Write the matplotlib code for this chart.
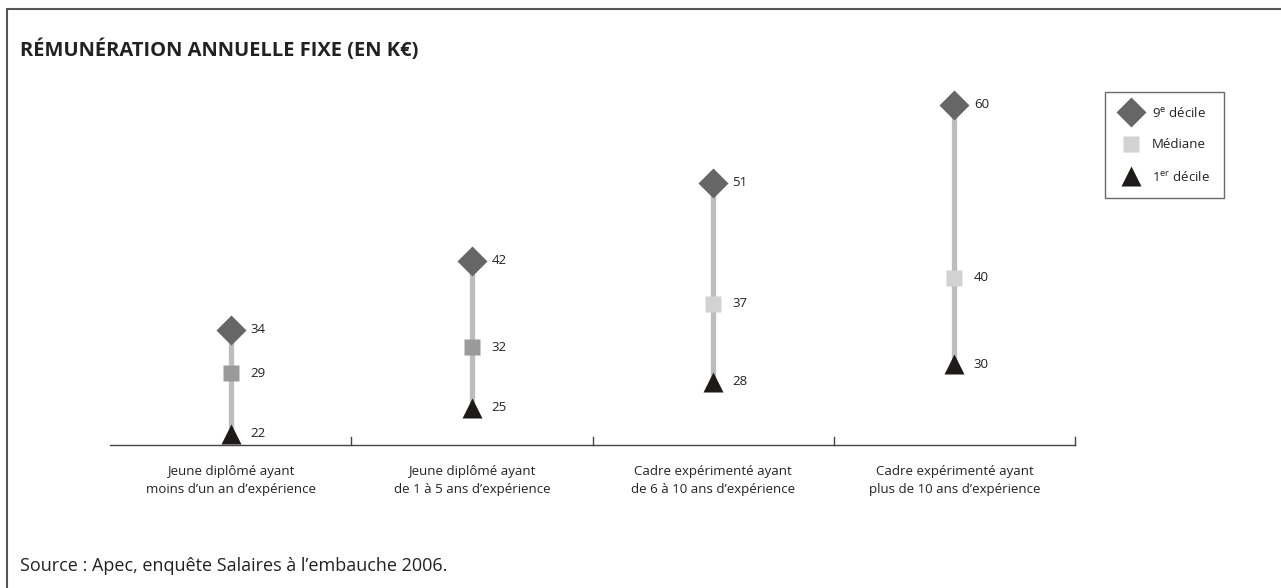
import matplotlib.pyplot as plt
from matplotlib.patches import Rectangle
from matplotlib.lines import Line2D

# data
categories = ["Jeune diplômé ayant\nmoins d\u2019un an d\u2019expérience",
              "Jeune diplômé ayant\nde 1 à 5 ans d\u2019expérience",
              "Cadre expérimenté ayant\nde 6 à 10 ans d\u2019expérience",
              "Cadre expérimenté ayant\nplus de 10 ans d\u2019expérience"]
decile9 = [34, 42, 51, 60]
mediane = [29, 32, 37, 40]
decile1 = [22, 25, 28, 30]
median_colors = ["#9a9a9a", "#9a9a9a", "#d2d2d2", "#d2d2d2"]

plt.rcParams['font.family'] = ['Open Sans', 'DejaVu Sans']
txt = "#222222"

fig = plt.figure(figsize=(12.81, 5.88), dpi=100)
W, H = 1281, 588

# outer frame (only top and left edges are visible)
fig.patches.append(Rectangle((7 / W, -0.05), 1.2, 1.05 - 9 / H, transform=fig.transFigure,
                             fill=False, edgecolor="#555555", lw=1.5))

ax = fig.add_axes([110 / W, 1 - 445 / H, 965 / W, 355 / H])
x = list(range(len(categories)))

for i in x:
    ax.plot([i, i], [decile1[i], decile9[i]], color="#bdbdbd", lw=3.8, zorder=1, solid_capstyle="butt")
    ax.plot(i, decile9[i], marker="D", ms=15, color="#666666", mec="none", zorder=3)
    ax.plot(i, mediane[i], marker="s", ms=12, color=median_colors[i], mec="none", zorder=3)
    ax.plot(i, decile1[i], marker="^", ms=14, color="#1e1a1a", mec="none", zorder=3)
    for v in (decile9[i], mediane[i], decile1[i]):
        ax.annotate(str(v), (i, v), xytext=(14, 0), textcoords="offset points",
                    va="center", ha="left", fontsize=9.5, color=txt)

ax.set_xlim(-0.5, len(categories) - 0.5)
ax.set_ylim(20.7, 61.7)
for s in ("top", "right", "left"):
    ax.spines[s].set_visible(False)
ax.spines["bottom"].set_color("#444444")
ax.spines["bottom"].set_linewidth(1)
ax.set_yticks([])
ax.set_xticks([])
for b in [i + 0.5 for i in x]:
    ax.plot([b, b], [20.7, 21.6], color="#444444", lw=1, clip_on=False)
for i, c in enumerate(categories):
    ax.text(i, -0.055, c, transform=ax.get_xaxis_transform(), ha="center", va="top",
            fontsize=9.5, color=txt, linespacing=1.55)

fig.text(20 / W, 1 - 50 / H, "RÉMUNÉRATION ANNUELLE FIXE (EN K\u20ac)", fontsize=14.5,
         fontweight="bold", color=txt, va="center", ha="left")
fig.text(20 / W, 1 - 566 / H, "Source : Apec, enquête Salaires à l\u2019embauche 2006.",
         fontsize=13, color=txt, va="center", ha="left")

handles = [
    Line2D([], [], ls="none", marker="D", ms=15, color="#666666", mec="none"),
    Line2D([], [], ls="none", marker="s", ms=12, color="#d2d2d2", mec="none"),
    Line2D([], [], ls="none", marker="^", ms=14, color="#1e1a1a", mec="none"),
]
labels = ["9$^{\\mathregular{e}}$ décile", "Médiane", "1$^{\\mathregular{er}}$ décile"]
leg = fig.legend(handles, labels, loc="upper left", bbox_to_anchor=(1105 / W, 1 - 92 / H),
                 frameon=True, fancybox=False, fontsize=9.5, labelspacing=1.4,
                 handletextpad=0.6, borderpad=1.05, handlelength=1.9, borderaxespad=0)
leg.get_frame().set_edgecolor("#444444")
leg.get_frame().set_linewidth(1)
for t in leg.get_texts():
    t.set_color(txt)

fig.savefig("out.png", dpi=100)
